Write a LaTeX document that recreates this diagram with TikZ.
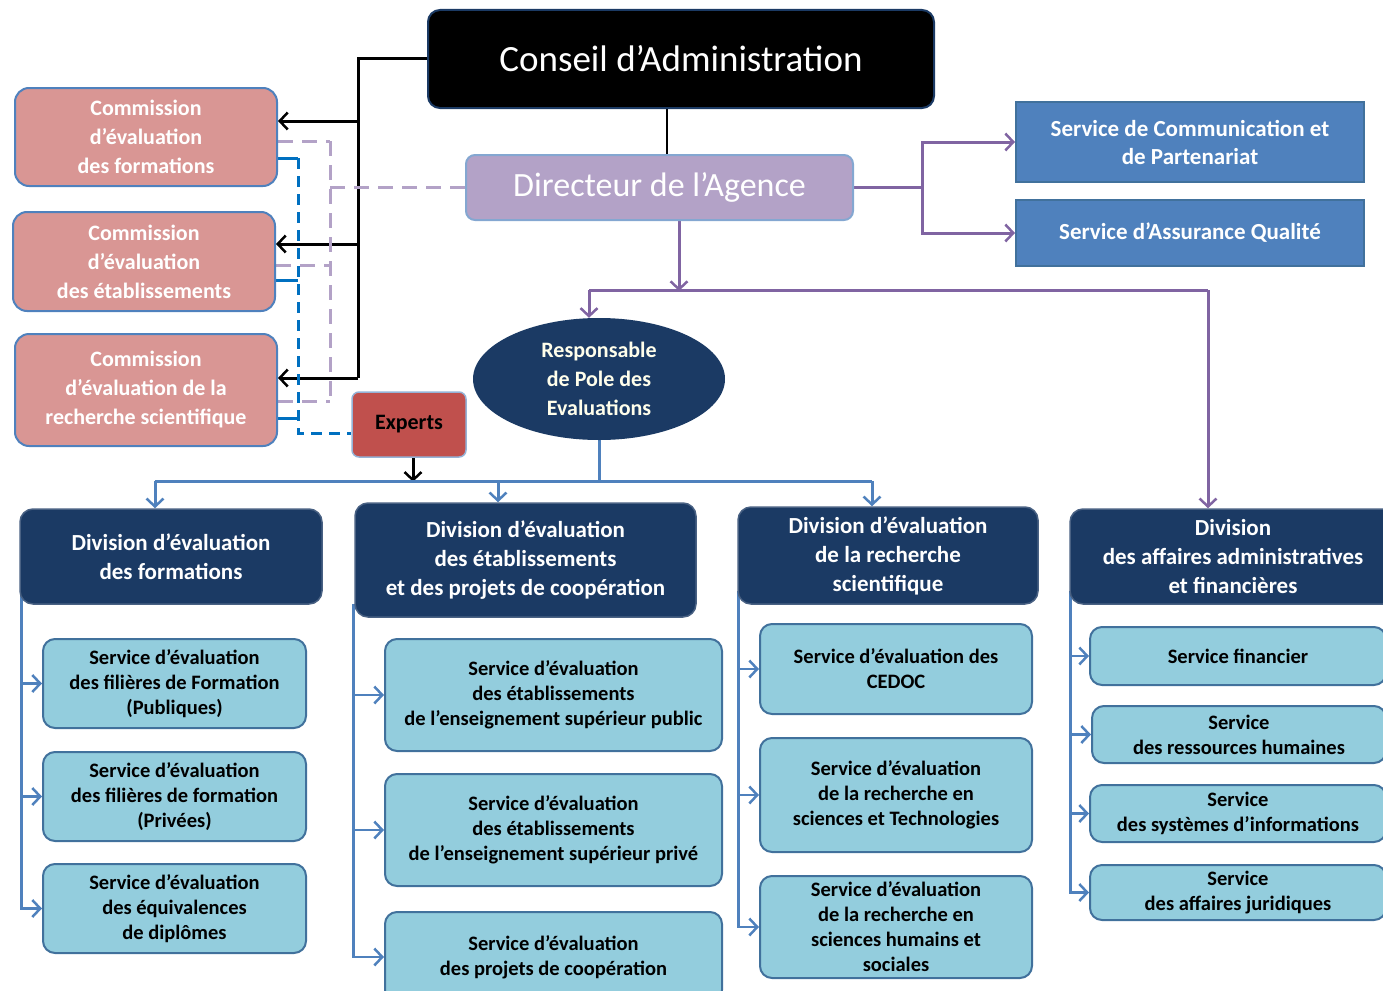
\documentclass[tikz,border=0pt]{standalone}
\usepackage{fontspec}
\setmainfont{Carlito}
\usepackage{tikz}
\usetikzlibrary{shapes,arrows.meta,positioning,calc,backgrounds}

\definecolor{navy}{HTML}{1B3A64}
\definecolor{rosecom}{HTML}{D99694}
\definecolor{rougexp}{HTML}{C0504D}
\definecolor{bleuserv}{HTML}{93CDDD}
\definecolor{bleubord}{HTML}{41719C}
\definecolor{bleucadre}{HTML}{4F81BD}
\definecolor{lavande}{HTML}{B3A2C7}
\definecolor{violet}{HTML}{8064A2}
\definecolor{bleutiret}{HTML}{0070C0}

\begin{document}
\begin{tikzpicture}[
    x=1pt, y=-1pt,
    >={Straight Barb[length=8pt,width=17pt,line width=2.5pt]},
    conseil/.style={rectangle, draw=navy, line width=2pt, fill=black, text=white, rounded corners=12pt, font=\fontsize{37}{40}\selectfont},
    directeur/.style={rectangle, draw=bleucadre!70, line width=2pt, fill=lavande, text=white, rounded corners=9pt, font=\fontsize{34}{38}\selectfont},
    commission/.style={rectangle, draw=bleucadre, line width=2pt, fill=rosecom, text=white, rounded corners=14pt, align=center, minimum width=262pt, font=\fontsize{22}{29}\selectfont\bfseries},
    expert/.style={rectangle, draw=bleucadre!60, line width=1.5pt, fill=rougexp, text=black, rounded corners=7pt, minimum width=114pt, minimum height=65pt, font=\fontsize{22}{26}\selectfont\bfseries},
    pole/.style={ellipse, fill=navy, text=white!92!yellow, inner sep=0pt, minimum width=252pt, minimum height=122pt, align=center, font=\fontsize{22}{29}\selectfont\bfseries},
    qualite/.style={rectangle, draw=bleubord, line width=2pt, fill=bleucadre, text=white, minimum width=348pt, align=center, font=\fontsize{23}{28}\selectfont\bfseries},
    division/.style={rectangle, draw=navy!80, line width=1.5pt, fill=navy, text=white, rounded corners=13pt, align=center, inner sep=2pt, font=\fontsize{23}{29}\selectfont\bfseries},
    service/.style={rectangle, draw=bleubord, line width=2pt, fill=bleuserv, text=black, rounded corners=12pt, align=center, inner sep=2pt, font=\fontsize{20.5}{25}\selectfont\bfseries},
    boss/.style={draw=black, line width=3pt},
    liaison/.style={draw=lavande, line width=3pt, dash pattern=on 15pt off 9pt},
    expline/.style={draw=bleutiret, line width=3pt},
    tutelle/.style={draw=violet, line width=3pt},
    bus/.style={draw=bleucadre, line width=3pt},
    branch/.style={draw=bleucadre, line width=2.5pt}
]
\useasboundingbox (0,0) rectangle (1383,990);

% top of the agency
\node[conseil, minimum width=506pt, minimum height=98pt] (conseil) at (681,59) {Conseil d'Administration};
\node[directeur, minimum width=387pt, minimum height=65pt] (dir) at (659.5,187.5) {Directeur de l'Agence};
\node[qualite, minimum height=80pt] (scom) at (1190,142) {Service de Communication et\\de Partenariat};
\node[qualite, minimum height=66pt] (sqa) at (1190,233) {Service d'Assurance Qualité};

% commissions
\node[commission, minimum height=98pt] (com1) at (146,137) {Commission\\d'évaluation\\des formations};
\node[commission, minimum height=99pt] (com2) at (144,261.5) {Commission\\d'évaluation\\des établissements};
\node[commission, minimum height=112pt] (com3) at (146,390) {Commission\\d'évaluation de la\\recherche scientifique};
\node[expert] (experts) at (409,424.5) {Experts};
\node[pole] (resp) at (599,379) {Responsable\\de Pole des\\Evaluations};

% divisions
\node[division, minimum width=302pt, minimum height=95pt] (div1) at (171,556.5) {Division d'évaluation\\des formations};
\node[division, minimum width=341pt, minimum height=114pt] (div2) at (525.5,560) {Division d'évaluation\\des établissements\\et des projets de coopération};
\node[division, minimum width=300pt, minimum height=97pt] (div3) at (888,555.5) {Division d'évaluation\\de la recherche\\scientifique};
\node[division, minimum width=326pt, minimum height=95pt] (div4) at (1233,556.5) {Division\\des affaires administratives\\et financières};

% services
\node[service, minimum width=263pt, minimum height=89pt] (s11) at (174.5,683.5) {Service d'évaluation\\des filières de Formation\\(Publiques)};
\node[service, minimum width=263pt, minimum height=89pt] (s12) at (174.5,796.5) {Service d'évaluation\\des filières de formation\\(Privées)};
\node[service, minimum width=263pt, minimum height=89pt] (s13) at (174.5,908.5) {Service d'évaluation\\des équivalences\\de diplômes};
\node[service, minimum width=337pt, minimum height=112pt] (s21) at (553.5,695) {Service d'évaluation\\des établissements\\de l'enseignement supérieur public};
\node[service, minimum width=337pt, minimum height=112pt] (s22) at (553.5,830) {Service d'évaluation\\des établissements\\de l'enseignement supérieur privé};
\node[service, minimum width=337pt, minimum height=90pt] (s23) at (553.5,957) {Service d'évaluation\\des projets de coopération};
\node[service, minimum width=272pt, minimum height=90pt] (s31) at (896,669) {Service d'évaluation des\\CEDOC};
\node[service, minimum width=272pt, minimum height=114pt] (s32) at (896,795) {Service d'évaluation\\de la recherche en\\sciences et Technologies};
\node[service, minimum width=272pt, minimum height=102pt] (s33) at (896,927) {Service d'évaluation\\de la recherche en\\sciences humains et\\sociales};
\node[service, minimum width=296pt, minimum height=58pt] (s41) at (1238,656) {Service financier};
\node[service, minimum width=294pt, minimum height=57pt] (s42) at (1239,734.5) {Service\\des ressources humaines};
\node[service, minimum width=296pt, minimum height=57pt] (s43) at (1238,813.5) {Service\\des systèmes d'informations};
\node[service, minimum width=296pt, minimum height=55pt] (s44) at (1238,892.5) {Service\\des affaires juridiques};

\begin{scope}[on background layer]
% conseil -> commissions
\coordinate (c1in) at ([yshift=16pt]com1.east);
\coordinate (c2in) at ([yshift=17.5pt]com2.east);
\coordinate (c3in) at ([yshift=12pt]com3.east);
\draw[boss] (conseil.west) -- (358,59) coordinate (cb) -- (cb |- c3in);
\foreach \c in {c1in,c2in,c3in} \draw[boss,->] (cb |- \c) -- (\c);
\coordinate (cx) at (667,0);
\draw[boss, line width=2pt] (conseil.south -| cx) -- (dir.north -| cx);

% directeur - commissions (dashed)
\coordinate (l1) at ([yshift=-4pt]com1.east);
\coordinate (l2) at ([yshift=-3.5pt]com2.east);
\coordinate (l3) at ([yshift=-11pt]com3.east);
\draw[liaison] (dir.west) -- (330,187.5) coordinate (lb);
\draw[liaison] (lb |- l1) -- (lb |- l3);
\foreach \c in {l1,l2,l3} \draw[liaison] (\c) -- (lb |- \c);

% experts - commissions
\coordinate (e1) at ([yshift=-21pt]com1.east);
\coordinate (e2) at ([yshift=-18.5pt]com2.east);
\coordinate (e3) at ([yshift=-28pt]com3.east);
\coordinate (eb) at (298,433);
\foreach \c in {e1,e2,e3} \draw[expline] (\c) -- (eb |- \c);
\draw[expline, dash pattern=on 11pt off 7pt] (eb |- e1) -- (eb) -- ([yshift=-8.5pt]experts.west);
\draw[boss,->] ([xshift=4pt]experts.south) -- ++(0,24);

% directeur -> services and pole
\draw[tutelle] (dir.east) -- (922,187.5) coordinate (rb);
\draw[tutelle,->] (rb) |- (scom.west);
\draw[tutelle,->] (rb) |- (sqa.west);
\draw[tutelle,->] ([xshift=19.5pt]dir.south) -- ++(0,70);
\draw[tutelle] (589,290) coordinate (pl) -- (1208,290) coordinate (pr);
\draw[tutelle,->] (pl) -- (resp.north -| pl);
\draw[tutelle,->] (pr) -- (div4.north -| pr);

% pole -> divisions
\draw[bus] (resp.south) -- (599,481);
\draw[bus] (155,481) coordinate (b1) -- (872,481) coordinate (b3);
\coordinate (b2) at (498,481);
\draw[bus,->] (b1) -- (div1.north -| b1);
\draw[bus,->] (b2) -- (div2.north -| b2);
\draw[bus,->] (b3) -- (div3.north -| b3);

% divisions -> services
\foreach \s in {s11,s12,s13} \draw[branch,->] ([xshift=2pt,yshift=14pt]div1.south west) |- (\s.west);
\foreach \s in {s21,s22,s23} \draw[branch,->] ([xshift=-1pt,yshift=14pt]div2.south west) |- (\s.west);
\foreach \s in {s31,s32,s33} \draw[branch,->] ([xshift=1pt,yshift=14pt]div3.south west) |- (\s.west);
\foreach \s in {s41,s42,s43,s44} \draw[branch,->] ([xshift=1pt,yshift=14pt]div4.south west) |- (\s.west);
\end{scope}

\end{tikzpicture}
\end{document}
